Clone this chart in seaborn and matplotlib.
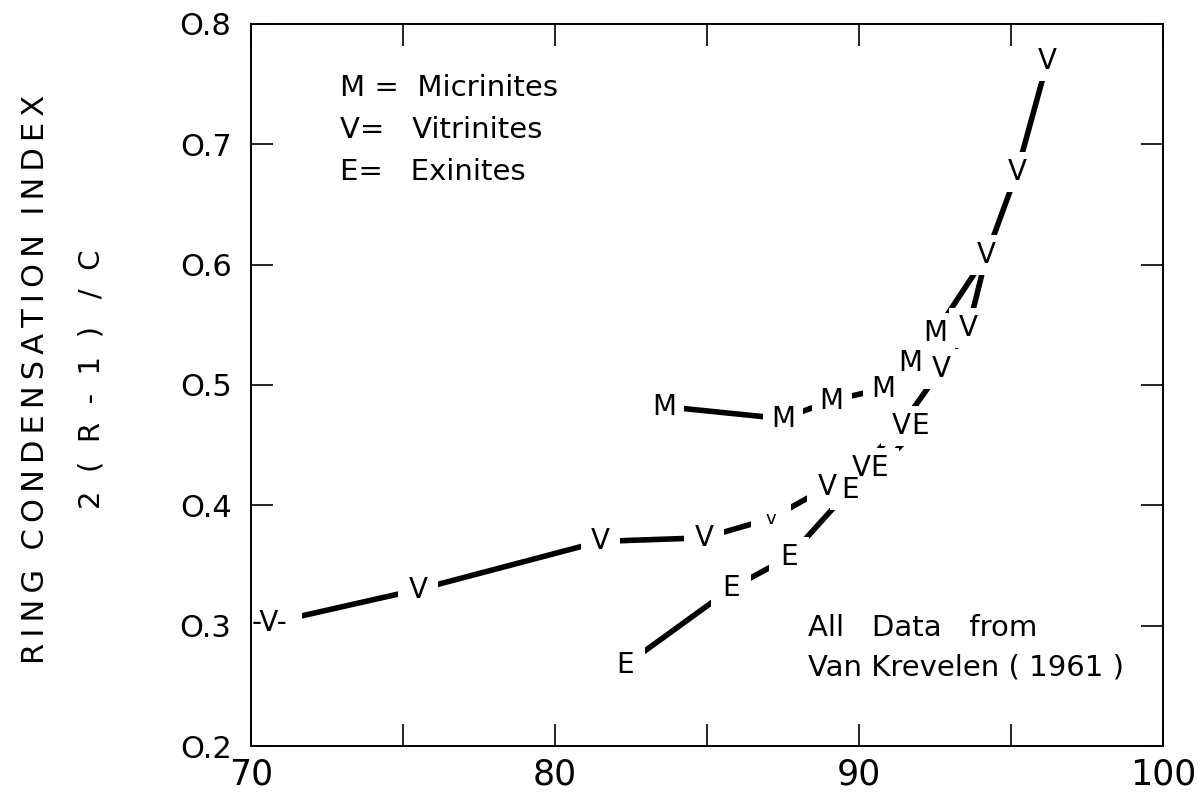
import matplotlib
matplotlib.use("Agg")
import matplotlib.pyplot as plt
import numpy as np
import pandas as pd
import seaborn as sns

# Carbon content (% C) and ring condensation index 2(R-1)/C
vit_x = [70.6, 75.5, 81.5, 84.9, 87.1, 88.95, 90.08, 91.38, 92.7, 93.6, 94.2, 95.2, 96.2]
vit_y = [0.302, 0.330, 0.370, 0.373, 0.389, 0.415, 0.431, 0.466, 0.513, 0.547, 0.608, 0.677, 0.769]
vit_tags = ["-V-", "V", "V", "V", "v", "V", "V", "V", "V", "V", "V", "V", "V"]

exi_x = [82.3, 85.8, 87.7, 89.7, 90.66, 92.0]
exi_y = [0.267, 0.331, 0.357, 0.413, 0.431, 0.466]
exi_tags = ["E", "E", "E", "E", "E", "E"]

mic_x = [83.6, 87.5, 89.1, 90.8, 91.7, 92.5, 94.2]
mic_y = [0.482, 0.472, 0.487, 0.497, 0.518, 0.543, 0.608]
mic_tags = ["M", "M", "M", "M", "M", "M", ""]

x_ticks = [70, 80, 90, 100]
x_minor = [75, 85, 95]
y_ticks = [0.2, 0.3, 0.4, 0.5, 0.6, 0.7, 0.8]
y_labels = ["O.2", "O.3", "O.4", "O.5", "O.6", "O.7", "O.8"]

sns.set_style("ticks")
plt.rcParams["font.family"] = ["DejaVu Sans"]
plt.rcParams["text.color"] = "black"
plt.rcParams["xtick.labelcolor"] = "black"
plt.rcParams["ytick.labelcolor"] = "black"

fig, ax = plt.subplots(figsize=(11.99, 7.96), dpi=100)
fig.subplots_adjust(left=0.2093, right=0.970, bottom=0.0628, top=0.970)

series = [
    (vit_x, vit_y, vit_tags),
    (exi_x, exi_y, exi_tags),
    (mic_x, mic_y, mic_tags),
]

# curves
for xs, ys, _ in series:
    df = pd.DataFrame({"carbon": xs, "index": ys})
    sns.lineplot(data=df, x="carbon", y="index", sort=False, estimator=None,
                 color="black", lw=4.0, ax=ax, solid_capstyle="round", zorder=2)

# table of lettered points
tags = pd.DataFrame({
    "carbon": [x for xs, _, _ in series for x in xs],
    "index": [y for _, ys, _ in series for y in ys],
    "tag": [t for _, _, ts in series for t in ts],
})
tags = tags[tags["tag"] != ""]

# white patches break the curves where a letter sits
wide_box = [(-1.0, -0.6), (1.0, -0.6), (1.0, 0.6), (-1.0, 0.6), (-1.0, -0.6)]
is_wide = tags["tag"].str.len() > 1
sns.scatterplot(data=tags[~is_wide], x="carbon", y="index", marker="s", s=820,
                color="white", edgecolor="none", linewidth=0, ax=ax, zorder=2.2)
sns.scatterplot(data=tags[is_wide], x="carbon", y="index", marker=wide_box, s=2300,
                color="white", edgecolor="none", linewidth=0, ax=ax, zorder=2.2)

for x, y, t in tags[["carbon", "index", "tag"]].itertuples(index=False):
    ax.text(x, y, t, ha="center", va="center", fontsize=13 if t == "v" else 20,
            color="black", zorder=4)

ax.set_xlim(70, 100)
ax.set_ylim(0.2, 0.8)
ax.set_xticks(x_ticks)
ax.set_xticks(x_minor, minor=True)
ax.set_yticks(y_ticks)
ax.set_xticklabels([str(v) for v in x_ticks], fontsize=25)
ax.set_yticklabels(y_labels, fontsize=22)
ax.tick_params(axis="both", which="both", direction="in", top=True, right=True,
               length=16, width=1.2, color="black")
ax.tick_params(axis="x", which="major", pad=8)
ax.tick_params(axis="y", which="major", pad=14)
for s in ax.spines.values():
    s.set_visible(True)
    s.set_color("black")
    s.set_linewidth(1.4)
    s.set_zorder(2.5)
ax.set_xlabel("")
ax.set_ylabel("")

key_kw = dict(transform=ax.transAxes, fontsize=21, va="center", ha="left")
ax.text(0.0976, 0.911, "M =  Micrinites", **key_kw)
ax.text(0.0976, 0.853, "V=   Vitrinites", **key_kw)
ax.text(0.0976, 0.795, "E=   Exinites", **key_kw)
ax.text(0.611, 0.163, "All   Data   from", **key_kw)
ax.text(0.611, 0.109, "Van Krevelen ( 1961 )", **key_kw)

thin = "\u2009"
ylab1 = "  ".join(thin.join(word) for word in ["RING", "CONDENSATION", "INDEX"])
ylab2 = "2  (  R  -  1  )   /  C"
fig.text(0.030, 0.523, ylab1, rotation=90, ha="center", va="center", fontsize=22)
fig.text(0.076, 0.523, ylab2, rotation=90, ha="center", va="center", fontsize=21)

fig.savefig("out.png", dpi=100, facecolor="white")
